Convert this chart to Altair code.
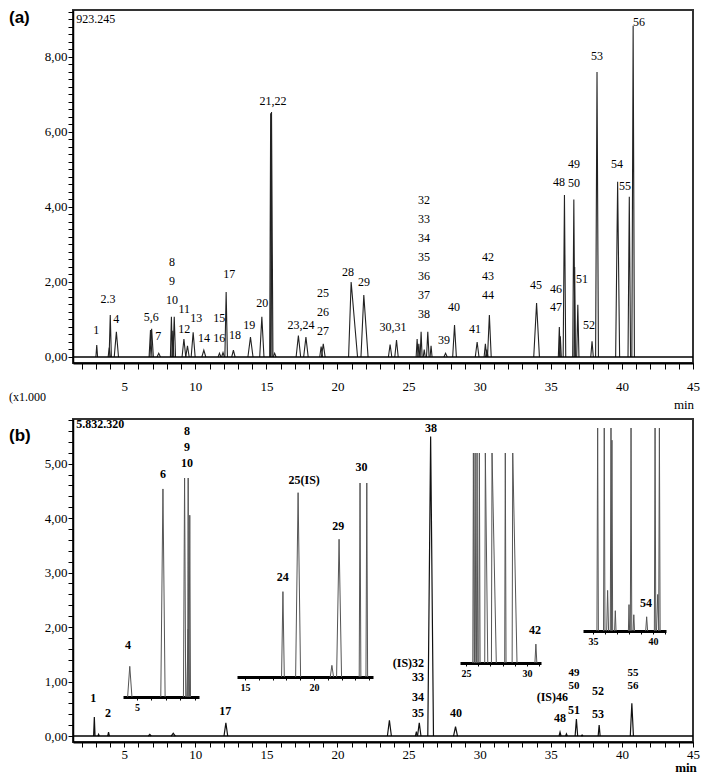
import altair as alt
import pandas as pd

SERIF = "Liberation Serif"
SANS = "Liberation Sans"

# ---------------- Panel (a): standard mixture (x10^5 counts vs min) ----------------
a_time = [3.07, 3.95, 4.02, 4.45, 6.85, 6.93, 7.43, 8.32, 8.42, 8.52, 9.20, 9.45, 9.85, 10.60,
          11.70, 11.95, 12.17, 12.68, 13.88, 14.68, 15.30, 15.36, 15.58, 17.25, 17.78, 18.85,
          19.00, 20.96, 21.85, 23.70, 24.15, 25.60, 25.72, 25.88, 26.10, 26.35, 26.58, 27.60,
          28.23, 29.82, 30.40, 30.50, 30.68, 34.00, 35.60, 35.67, 35.96, 36.62, 36.68, 36.90,
          37.90, 38.25, 39.70, 40.52, 40.79]
a_height = [0.32, 0.25, 1.12, 0.67, 0.72, 0.75, 0.10, 1.07, 0.70, 1.07, 0.48, 0.30, 0.66, 0.18,
            0.10, 0.12, 1.73, 0.18, 0.53, 1.07, 6.50, 6.53, 0.10, 0.57, 0.53, 0.28, 0.35, 2.00,
            1.65, 0.33, 0.45, 0.48, 0.35, 0.67, 0.20, 0.67, 0.30, 0.10, 0.85, 0.40, 0.35, 0.20,
            1.12, 1.44, 0.80, 0.55, 4.32, 4.20, 2.40, 1.39, 0.42, 7.60, 4.67, 4.27, 8.83]
a_wl = [0.06, 0.08, 0.08, 0.15, 0.10, 0.12, 0.12, 0.07, 0.07, 0.09, 0.13, 0.12, 0.14, 0.14,
        0.10, 0.10, 0.09, 0.12, 0.18, 0.15, 0.07, 0.07, 0.10, 0.16, 0.16, 0.10, 0.13, 0.18,
        0.20, 0.12, 0.12, 0.07, 0.07, 0.07, 0.07, 0.09, 0.07, 0.12, 0.13, 0.13, 0.09, 0.09,
        0.13, 0.20, 0.07, 0.07, 0.09, 0.08, 0.05, 0.08, 0.09, 0.10, 0.14, 0.09, 0.09]
a_wr = [0.06, 0.08, 0.08, 0.15, 0.10, 0.12, 0.12, 0.07, 0.07, 0.09, 0.13, 0.12, 0.14, 0.14,
        0.10, 0.10, 0.09, 0.12, 0.18, 0.15, 0.09, 0.10, 0.10, 0.16, 0.16, 0.10, 0.13, 0.45,
        0.30, 0.12, 0.12, 0.07, 0.07, 0.07, 0.07, 0.09, 0.07, 0.12, 0.13, 0.13, 0.09, 0.09,
        0.13, 0.20, 0.07, 0.07, 0.09, 0.08, 0.05, 0.08, 0.09, 0.10, 0.14, 0.09, 0.09]

a_lab_text = ["1", "2.3", "4", "5,6", "7", "8", "9", "10", "11", "12", "13", "14", "15", "16",
              "17", "18", "19", "20", "21,22", "23,24", "25", "26", "27", "28", "29", "30,31",
              "32", "33", "34", "35", "36", "37", "38", "39", "40", "41", "42", "43", "44", "45",
              "46", "47", "48", "49", "50", "51", "52", "53", "54", "55", "56"]
a_lab_t = [3.03, 3.87, 4.44, 6.90, 7.39, 8.37, 8.37, 8.37, 9.22, 9.22, 10.06, 10.62, 11.68, 11.68,
           12.38, 12.80, 13.79, 14.70, 15.47, 17.44, 18.98, 18.98, 18.98, 20.74, 21.87, 23.90,
           26.09, 26.09, 26.09, 26.09, 26.09, 26.09, 26.09, 27.49, 28.20, 29.67, 30.59, 30.59,
           30.59, 33.96, 35.37, 35.37, 35.58, 36.64, 36.64, 37.20, 37.69, 38.25, 39.66, 40.21, 41.20]
a_lab_v = [0.72, 1.55, 1.01, 1.07, 0.56, 2.53, 2.03, 1.52, 1.28, 0.75, 1.04, 0.51, 1.04, 0.51,
           2.21, 0.59, 0.85, 1.44, 6.83, 0.85, 1.71, 1.20, 0.69, 2.27, 2.00, 0.80, 4.19, 3.68,
           3.17, 2.67, 2.16, 1.65, 1.15, 0.45, 1.33, 0.75, 2.67, 2.16, 1.65, 1.92, 1.81, 1.33,
           4.67, 5.15, 4.64, 2.08, 0.85, 8.03, 5.15, 4.56, 8.93]

# ---------------- Panel (b): sample ----------------
b_time = [2.90, 3.20, 3.90, 6.80, 8.45, 12.15, 23.65, 25.55, 25.75, 26.55, 28.30, 35.65, 36.10,
          36.80, 37.20, 38.40, 40.70]
b_height = [0.35, 0.03, 0.07, 0.03, 0.05, 0.24, 0.29, 0.08, 0.24, 5.50, 0.17, 0.07, 0.04, 0.31,
            0.02, 0.20, 0.60]
b_w = [0.05, 0.05, 0.06, 0.10, 0.15, 0.13, 0.14, 0.07, 0.12, 0.20, 0.14, 0.07, 0.06, 0.09,
       0.06, 0.07, 0.11]

b_lab_text = ["1", "2", "17", "38", "40", "48", "51", "52", "53"]
b_lab_t = [2.82, 3.87, 12.10, 26.58, 28.34, 35.65, 36.63, 38.32, 38.32]
b_lab_v = [0.70, 0.42, 0.46, 5.65, 0.42, 0.33, 0.48, 0.83, 0.40]
b_slab_text = ["49", "50", "55", "56"]
b_slab_t = [36.63, 36.63, 40.78, 40.78]
b_slab_v = [1.15, 0.92, 1.15, 0.92]
b_rlab_text = ["(IS)32", "33", "34", "35", "(IS)46"]
b_rlab_t = [26.09, 26.09, 26.09, 26.09, 36.21]
b_rlab_v = [1.34, 1.08, 0.72, 0.42, 0.72]

# insets (relative height: 1 = top of inset window)
i1_time = [4.50, 6.80, 8.30, 8.55, 8.66, 8.55]
i1_height = [0.14, 0.95, 1.00, 1.00, 0.83, 0.31]
i1_w = [0.15, 0.15, 0.08, 0.04, 0.05, 0.10]
i1_lab_text = ["4", "6", "8", "9", "10"]
i1_lab_t = [4.375, 6.80, 8.47, 8.47, 8.47]
i1_lab_v = [0.237, 1.02, 1.215, 1.14, 1.07]

i2_time = [17.75, 18.85, 21.30, 21.82, 23.34, 23.83]
i2_height = [0.44, 0.95, 0.06, 0.71, 1.00, 1.00]
i2_w = [0.10, 0.18, 0.12, 0.18, 0.06, 0.06]
i2_lab_text = ["24", "25(IS)", "29", "30"]
i2_lab_t = [17.73, 19.29, 21.76, 23.45]
i2_lab_v = [0.515, 1.015, 0.778, 1.082]

i3_time = [25.60, 25.74, 25.90, 26.09, 26.58, 27.13, 28.22, 28.83, 30.73]
i3_height = [1.0, 1.0, 1.0, 1.0, 1.0, 1.0, 1.0, 1.0, 0.09]
i3_wl = [0.05, 0.05, 0.05, 0.05, 0.05, 0.05, 0.05, 0.05, 0.08]
i3_wr = [0.06, 0.06, 0.06, 0.06, 0.20, 0.35, 0.06, 0.35, 0.08]
i3_lab_text = ["42"]
i3_lab_t = [30.66]
i3_lab_v = [0.157]

i4_time = [35.39, 35.94, 36.22, 36.50, 36.58, 36.86, 38.00, 38.17, 38.40, 39.47, 40.17, 40.39, 40.53]
i4_height = [1.0, 1.0, 0.20, 1.0, 0.94, 0.10, 0.13, 1.0, 0.08, 0.07, 1.0, 0.18, 1.0]
i4_w = [0.06, 0.06, 0.08, 0.06, 0.06, 0.06, 0.05, 0.06, 0.06, 0.08, 0.06, 0.10, 0.06]
i4_lab_text = ["54"]
i4_lab_t = [39.42]
i4_lab_v = [0.138]

# ---------------- helpers ----------------
def peaks_df(times, heights, wl, wr):
    rows = []
    for i, (t, h, l, r) in enumerate(zip(times, heights, wl, wr)):
        rows.append({"pid": i, "k": 0, "t": t - l, "v": 0.0})
        rows.append({"pid": i, "k": 1, "t": t, "v": h})
        rows.append({"pid": i, "k": 2, "t": t + r, "v": 0.0})
    return pd.DataFrame(rows)


def lab_df(text, t, v):
    return pd.DataFrame({"s": text, "t": t, "v": v})


def x_axis(values, every, offset=0, size=13, bold=False, dw=2, ts=6, pad=10):
    test = f"datum.value % {every} == 0"
    return alt.Axis(orient="bottom", offset=offset, values=values,
                    labelExpr=f"{test} ? datum.label : ''",
                    title=None, grid=False, domainColor="black", domainWidth=dw,
                    tickColor="black", tickSize=ts, tickWidth=1,
                    labelFont=SERIF,
                    labelFontSize={"condition": {"test": test, "value": size}, "value": 0},
                    labelFontWeight="bold" if bold else "normal", labelColor="black",
                    labelPadding=pad, labelFlush=False, labelOverlap=False)


def y_axis(values, every):
    test = f"datum.value % {every} == 0"
    return alt.Axis(values=values,
                    labelExpr=f"{test} ? replace(format(datum.value, '.2f'), '.', ',') : ''",
                    title=None, grid=False, domainColor="black", domainWidth=1.5,
                    tickColor="black", tickSize=5, tickWidth=1,
                    labelFont=SERIF,
                    labelFontSize={"condition": {"test": test, "value": 13}, "value": 0},
                    labelColor="black",
                    labelPadding=1, labelFlush=False, labelOverlap=False)


def texts(df, X, Y, size=12, bold=False, align="center", font=SERIF):
    return alt.Chart(df).mark_text(font=font, fontSize=size,
                                   fontWeight="bold" if bold else "normal",
                                   align=align, baseline="middle", color="black").encode(
        x=X, y=Y, text="s:N")


def note(s, x, y, size=13, bold=False, font=SERIF, align="left", baseline="middle"):
    return alt.Chart(pd.DataFrame({"s": [s]})).mark_text(
        font=font, fontSize=size, fontWeight="bold" if bold else "normal",
        align=align, baseline=baseline, color="black").encode(x=x, y=y, text="s:N")


X_DOM = [1.4, 45.0]
W = 620
ticks_x = list(range(2, 46))

# ---------------- panel (a) ----------------
XA = alt.X("t:Q", scale=alt.Scale(domain=X_DOM, nice=False, zero=False),
           axis=x_axis(ticks_x, 5, pad=11))
YA = alt.Y("v:Q", scale=alt.Scale(domain=[-0.16, 9.253], nice=False, zero=False),
           axis=y_axis([round(0.2 * i, 1) for i in range(0, 47)], 2))

a_lines = alt.Chart(peaks_df(a_time, a_height, a_wl, a_wr)).mark_line(
    color="#222", strokeWidth=1.1).encode(x=XA, y=YA, detail="pid:N", order="k:O")
a_base = alt.Chart(pd.DataFrame({"v": [0.0]})).mark_rule(color="black", strokeWidth=1.5).encode(y=YA)
a_labels = texts(lab_df(a_lab_text, a_lab_t, a_lab_v), XA, YA, size=12)
a_max = texts(lab_df(["923.245"], [1.62], [9.01]), XA, YA, size=12, align="left")
a_tag = note("(a)", alt.value(-64), alt.value(0), size=17, bold=True, font=SANS, baseline="top")
a_mult = note("(x1.000", alt.value(-64), alt.value(387), size=12)
a_min = note("min", alt.value(611), alt.value(395), size=13, align="center")

panel_a = alt.layer(a_lines, a_base, a_labels, a_max, a_tag, a_mult, a_min).properties(
    width=W, height=353)

# ---------------- panel (b) ----------------
XB = alt.X("t:Q", scale=alt.Scale(domain=X_DOM, nice=False, zero=False),
           axis=x_axis(ticks_x, 5, pad=1, ts=5))
YB = alt.Y("v:Q", scale=alt.Scale(domain=[-0.11, 5.82], nice=False, zero=False),
           axis=y_axis([round(0.2 * i, 1) for i in range(0, 30)], 1))

b_lines = alt.Chart(peaks_df(b_time, b_height, b_w, b_w)).mark_line(
    color="#111", strokeWidth=1.2).encode(x=XB, y=YB, detail="pid:N", order="k:O")
b_base = alt.Chart(pd.DataFrame({"v": [0.0]})).mark_rule(color="black", strokeWidth=1.5).encode(y=YB)
b_labels = texts(lab_df(b_lab_text, b_lab_t, b_lab_v), XB, YB, size=12, bold=True)
b_slabels = texts(lab_df(b_slab_text, b_slab_t, b_slab_v), XB, YB, size=11, bold=True)
b_rlabels = texts(lab_df(b_rlab_text, b_rlab_t, b_rlab_v), XB, YB, size=12, bold=True, align="right")
b_max = texts(lab_df(["5.832.320"], [1.62], [5.72]), XB, YB, size=12, bold=True, align="left")
b_tag = note("(b)", alt.value(-64), alt.value(9), size=17, bold=True, font=SANS, baseline="top")
b_min = note("min", alt.value(613), alt.value(349), size=13, bold=True, align="center")

main_b = alt.layer(b_lines, b_base, b_labels, b_slabels, b_rlabels, b_max, b_tag, b_min)


def inset(times, heights, wl, wr, labs, dom, rng_x, base, top, every, ticks, plot_h=323):
    X = alt.X("t:Q", scale=alt.Scale(domain=dom, range=rng_x, nice=False, zero=False),
              axis=x_axis(ticks, every, offset=base - plot_h, size=10, bold=True, dw=3, ts=3, pad=2))
    Y = alt.Y("v:Q", scale=alt.Scale(domain=[0, 1], range=[base, top], nice=False, zero=False),
              axis=None)
    ln = alt.Chart(peaks_df(times, heights, wl, wr)).mark_line(
        color="#555", strokeWidth=1.0).encode(x=X, y=Y, detail="pid:N", order="k:O")
    tx = texts(labs, X, Y, size=12, bold=True)
    return alt.layer(ln, tx)


in1 = inset(i1_time, i1_height, i1_w, i1_w, lab_df(i1_lab_text, i1_lab_t, i1_lab_v),
            [4.03, 9.3], [50, 126], 278, 59, 5, [5, 6, 7, 8, 9])
in2 = inset(i2_time, i2_height, i2_w, i2_w, lab_df(i2_lab_text, i2_lab_t, i2_lab_v),
            [14.42, 24.28], [164, 300], 258, 64, 5, list(range(15, 25)))
in3 = inset(i3_time, i3_height, i3_wl, i3_wr, lab_df(i3_lab_text, i3_lab_t, i3_lab_v),
            [24.5, 31.15], [387, 468], 244, 34, 5, list(range(25, 32)))
in4 = inset(i4_time, i4_height, i4_w, i4_w, lab_df(i4_lab_text, i4_lab_t, i4_lab_v),
            [34.17, 41.08], [510, 593], 212, 9, 5, list(range(35, 42)))

panel_b = alt.layer(main_b, in1, in2, in3, in4).resolve_scale(
    x="independent", y="independent").properties(width=W, height=323)

chart = alt.vconcat(panel_a, panel_b, spacing=4).properties(padding=0).configure(
    padding=0).configure_view(stroke="#333", strokeWidth=2)

chart.save("out.html", embed_options={"renderer": "svg", "actions": False})
